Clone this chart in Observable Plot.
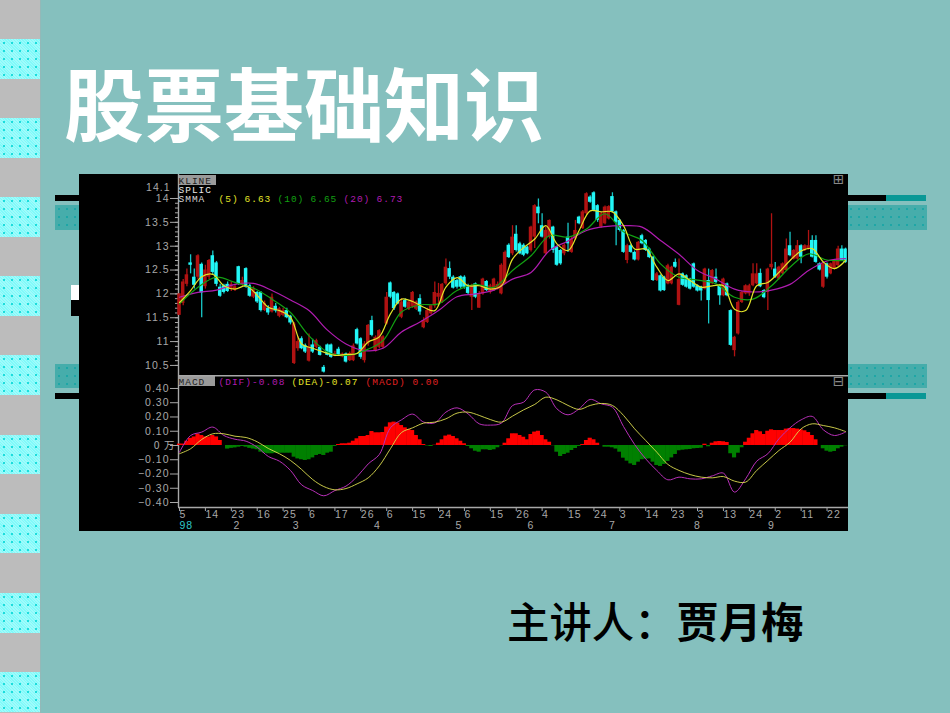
<!DOCTYPE html>
<html><head><meta charset="utf-8">
<script src="https://cdn.jsdelivr.net/npm/d3@7"></script>
<script src="https://cdn.jsdelivr.net/npm/@observablehq/plot@0.6"></script>
<style>
html,body{margin:0;padding:0;background:#85c0be;width:950px;height:713px;overflow:hidden;position:relative}
.abs{position:absolute}
.dots{background-color:#80fafa;background-image:radial-gradient(circle,#1cdcdc 0.9px,transparent 1.3px),repeating-linear-gradient(45deg,rgba(255,255,255,.25) 0 1px,transparent 1px 2px);background-size:8px 8px,auto}
.hatch{background-color:#46adab;background-image:radial-gradient(circle,#1ea6a6 1px,transparent 1.5px);background-size:8px 8px}
#title{left:64px;top:50px;font:700 80px/100px "Noto Sans CJK SC";color:#fff;white-space:nowrap}
#speaker{left:507px;top:592px;font:500 42.4px/56px "Noto Sans CJK SC";color:#000;white-space:nowrap}
#speaker b{font-weight:700}
svg{display:block}
</style></head><body>
<div id="bg"></div>
<div id="panel" class="abs" style="left:79px;top:174px;width:769px;height:357px;background:#000"></div>
<div class="abs" style="left:178px;top:175px;width:38px;height:10px;background:#9a9a9a"></div>
<div class="abs" style="left:178px;top:376px;width:37px;height:10px;background:#9a9a9a"></div>
<div id="title" class="abs">股票基础知识</div>
<div id="speaker" class="abs">主讲人：<b>贾月梅</b></div>
<div id="kline" class="abs" style="left:79px;top:174px"></div>
<div id="macd" class="abs" style="left:79px;top:375px"></div>
<script>
// ---- candlesticks (price, one entry per trading day)
const opens=[11.55,11.8,12.2,12.65,12.35,12.35,12.62,12.15,12.35,12.8,12.65,12.14,12.17,12.2,12.1,12.08,12.57,12.18,12.53,12.17,11.93,12.03,12.03,11.65,11.7,11.62,11.74,11.53,11.55,11.65,11.53,10.54,10.85,11.06,10.92,10.59,10.93,10.88,10.88,10.46,10.93,10.93,10.7,10.84,10.68,10.74,10.6,10.6,11.25,11.06,10.6,10.95,11.44,10.8,10.88,10.88,11.37,12.23,12.03,12.0,11.51,11.86,11.68,11.72,11.68,11.9,11.29,11.4,11.58,11.75,11.93,11.82,12.21,12.53,12.35,12.28,12.36,12.35,12.17,11.93,12.21,11.7,12.0,12.26,12.03,12.07,12.1,12.0,12.21,13.02,12.84,13.25,13.05,13.02,12.98,12.91,13.19,13.82,13.43,12.84,13.19,13.4,12.98,12.91,12.84,13.19,12.87,13.15,13.61,13.37,13.68,14.03,14.12,13.85,13.4,13.47,13.57,14.04,13.72,13.54,13.33,12.7,13.01,12.87,12.71,13.22,13.12,12.94,12.77,12.28,12.38,12.35,12.21,12.21,12.66,11.76,12.42,12.38,12.31,12.63,12.17,12.14,12.1,12.28,12.21,12.35,12.17,11.96,12.21,11.65,10.81,11.16,11.82,12.0,12.0,12.17,12.21,12.43,12.07,12.03,12.55,12.52,12.31,12.42,12.49,13.01,12.73,12.73,13.01,12.91,12.94,13.12,13.12,12.63,12.14,12.63,12.42,12.52,12.59,12.94,12.94];
const closes=[12.0,12.25,12.4,12.6,12.18,12.8,12.02,12.5,12.7,12.45,12.2,11.95,12.03,12.05,12.2,12.15,12.2,12.28,12.14,11.95,12.1,11.83,11.65,11.8,11.6,11.93,11.64,11.69,11.65,11.5,11.39,11.37,11.0,10.85,10.78,10.88,10.78,11.02,10.71,10.36,10.71,10.67,10.75,10.72,10.74,10.57,10.75,10.91,10.95,10.67,10.95,11.34,11.13,11.09,11.23,11.1,11.93,11.93,11.69,11.79,11.83,11.72,11.83,12.03,11.83,11.62,11.44,11.65,11.75,12.03,12.01,12.2,12.56,12.35,12.12,12.14,12.14,12.14,12.01,12.17,11.93,12.0,12.31,12.07,12.17,12.31,12.2,12.6,12.87,12.76,13.19,12.91,12.84,12.81,12.84,13.4,13.85,13.68,13.19,13.33,13.54,12.91,12.6,12.63,13.02,13.05,13.15,13.33,13.47,13.72,14.1,13.92,13.75,13.54,13.68,13.82,13.83,13.72,13.5,13.33,12.87,13.01,12.87,12.71,13.08,13.05,12.91,12.76,12.28,12.42,12.06,12.07,12.59,12.56,12.56,12.3,12.18,12.14,12.1,12.14,12.06,12.06,12.52,11.86,12.49,12.24,11.96,12.31,11.96,10.92,11.09,11.82,12.03,12.17,12.17,12.42,12.42,12.15,11.92,12.52,12.62,12.35,12.56,12.63,12.94,12.8,12.91,13.01,12.77,13.01,13.01,12.77,12.66,12.5,12.63,12.35,12.63,12.7,12.94,12.7,12.66];
const highs=[12.0,12.3,12.52,12.82,12.52,12.82,12.65,12.6,12.72,12.9,12.68,12.2,12.2,12.25,12.25,12.2,12.58,12.35,12.55,12.2,12.15,12.05,12.05,11.85,11.75,12.0,11.8,11.72,11.7,11.7,11.55,11.4,11.1,11.1,10.95,11.16,11.05,11.05,10.9,10.5,10.95,10.95,10.8,10.88,10.76,10.76,10.78,10.95,11.28,11.08,11.0,11.36,11.53,11.12,11.25,11.12,12.03,12.25,12.05,12.02,11.9,11.9,11.85,12.05,11.85,11.98,11.5,11.7,11.78,12.25,12.22,12.22,12.73,12.67,12.38,12.3,12.38,12.38,12.2,12.2,12.23,12.05,12.33,12.28,12.2,12.33,12.25,12.63,12.9,13.05,13.43,13.43,13.08,13.05,13.0,13.42,13.87,13.99,13.68,13.4,13.55,13.42,13.0,12.93,13.05,13.48,13.2,13.54,13.63,13.75,14.12,14.06,14.14,13.87,13.7,13.84,13.85,14.12,13.74,13.56,13.35,13.04,13.04,12.9,13.1,13.25,13.14,12.96,12.79,12.45,12.4,12.37,12.62,12.58,12.73,12.73,12.44,12.4,12.33,12.65,12.19,12.16,12.54,12.52,12.51,12.52,12.19,12.33,12.23,11.67,11.11,11.85,12.05,12.19,12.2,12.63,12.63,12.52,12.09,12.54,13.68,12.66,12.58,12.65,13.15,13.29,12.93,13.12,13.03,13.03,13.33,13.22,13.22,12.65,12.65,12.65,12.65,12.72,13.0,13.01,12.96];
const lows=[11.55,11.75,12.15,12.42,12.1,12.3,11.5,12.1,12.3,12.4,12.15,11.93,12.0,12.03,12.05,12.05,12.18,12.15,12.12,11.93,11.9,11.8,11.62,11.63,11.55,11.6,11.6,11.5,11.52,11.48,11.35,10.52,10.8,10.83,10.75,10.57,10.75,10.85,10.7,10.34,10.7,10.65,10.68,10.7,10.66,10.55,10.58,10.58,10.93,10.63,10.55,10.9,11.1,10.78,10.85,10.85,11.35,11.9,11.65,11.77,11.48,11.7,11.65,11.7,11.65,11.55,11.27,11.38,11.56,11.7,11.75,11.8,12.18,12.3,12.1,12.1,12.1,12.1,11.98,11.65,11.9,11.7,11.97,12.05,12.0,12.05,12.08,11.98,12.2,12.74,12.8,12.88,12.82,12.78,12.82,12.88,12.95,13.47,13.17,12.82,13.15,12.85,12.58,12.6,12.8,12.87,12.85,13.12,13.45,13.35,13.65,13.9,13.72,13.5,13.38,13.45,13.55,13.7,13.01,13.3,12.85,12.63,12.85,12.69,12.69,13.03,12.89,12.74,12.26,12.26,12.04,12.05,12.19,12.19,12.54,11.75,12.16,12.12,12.08,12.12,12.04,11.85,12.08,11.37,12.19,12.22,11.76,11.94,11.94,10.9,10.68,11.14,11.8,11.98,11.95,12.15,12.19,12.13,11.9,11.65,12.5,12.33,12.29,12.4,12.47,12.78,12.71,12.71,12.63,12.89,12.92,12.75,12.64,12.48,12.12,12.31,12.4,12.5,12.57,12.68,12.64];
const sma5Days=d3.range(0,181,3);
const sma5=[11.82,12.07,12.36,12.41,12.17,12.10,12.17,11.97,11.72,11.65,11.51,10.95,10.86,10.78,10.71,10.73,10.75,10.99,11.10,11.58,11.89,11.84,11.72,11.65,12.14,12.34,12.17,12.17,12.10,12.17,12.73,12.97,13.15,13.43,13.05,12.91,13.33,13.74,13.72,13.72,13.43,12.94,12.94,12.56,12.28,12.42,12.28,12.14,12.17,12.17,11.68,11.65,12.17,12.24,12.45,12.70,12.90,12.95,12.67,12.53,12.70];
const maDays=d3.range(0,181,5);
const sma10=[11.79,12.14,12.35,12.24,12.12,11.89,11.61,11.12,10.78,10.71,10.81,11.02,11.62,11.77,11.79,12.07,12.2,12.14,12.49,12.80,13.22,13.19,13.36,13.68,13.30,13.12,12.63,12.35,12.29,12.21,11.93,11.89,12.17,12.56,12.84,12.71,12.70];
const sma20=[11.93,12.03,12.08,12.2,12.22,12.07,11.87,11.65,11.24,10.95,10.81,10.86,11.2,11.41,11.65,11.94,12.0,12.08,12.31,12.45,12.91,13.11,13.33,13.41,13.43,13.40,13.12,12.83,12.49,12.31,12.10,12.04,12.08,12.2,12.49,12.69,12.74];
// ---- MACD
const hist=[0.01,0.01,0.03,0.05,0.06,0.08,0.07,0.06,0.06,0.07,0.06,0.035,0,-0.025,-0.02,-0.017,-0.012,-0.007,-0.012,-0.02,-0.025,-0.03,-0.047,-0.054,-0.058,-0.058,-0.054,-0.054,-0.054,-0.054,-0.054,-0.082,-0.094,-0.1,-0.105,-0.1,-0.087,-0.07,-0.063,-0.07,-0.054,-0.047,-0.007,0.007,0.012,0.012,0.016,0.03,0.047,0.063,0.063,0.07,0.098,0.089,0.089,0.091,0.129,0.159,0.164,0.157,0.14,0.124,0.112,0.105,0.07,0.04,0.007,-0.003,-0.007,0.002,0.016,0.04,0.066,0.073,0.063,0.047,0.03,0.012,-0.007,-0.023,-0.04,-0.047,-0.03,-0.03,-0.035,-0.03,-0.016,-0.002,0.016,0.047,0.082,0.082,0.07,0.058,0.04,0.077,0.094,0.1,0.07,0.04,0.023,-0.002,-0.047,-0.077,-0.063,-0.054,-0.035,-0.021,-0.007,0.007,0.035,0.051,0.04,0.016,0,-0.012,-0.012,-0.016,-0.025,-0.047,-0.089,-0.11,-0.129,-0.14,-0.117,-0.1,-0.096,-0.094,-0.117,-0.14,-0.147,-0.133,-0.112,-0.087,-0.063,-0.037,-0.033,-0.03,-0.028,-0.023,-0.021,-0.019,0.009,-0.009,0.016,0.026,0.028,0.026,0.021,-0.058,-0.087,-0.054,-0.016,0.023,0.051,0.082,0.105,0.096,0.077,0.1,0.11,0.105,0.105,0.105,0.115,0.119,0.119,0.115,0.11,0.103,0.091,0.07,0.04,0,-0.023,-0.04,-0.047,-0.042,-0.023,-0.012,-0.002];
const difDays=d3.range(0,181,3);
const dif=[-0.047,0.07,0.094,0.129,0.07,0.044,0.03,-0.012,-0.077,-0.11,-0.175,-0.276,-0.316,-0.353,-0.316,-0.285,-0.218,-0.129,-0.063,0.124,0.18,0.22,0.164,0.159,0.234,0.264,0.222,0.152,0.143,0.157,0.28,0.304,0.39,0.374,0.257,0.215,0.257,0.323,0.292,0.269,0.133,0.007,-0.094,-0.175,-0.241,-0.222,-0.234,-0.234,-0.213,-0.194,-0.327,-0.234,-0.11,-0.058,0.047,0.124,0.18,0.204,0.11,0.07,0.094];
const dea=[-0.058,-0.023,0.042,0.082,0.082,0.065,0.056,0.026,-0.021,-0.058,-0.105,-0.168,-0.239,-0.288,-0.311,-0.302,-0.269,-0.227,-0.143,-0.023,0.091,0.124,0.157,0.164,0.187,0.227,0.234,0.211,0.182,0.164,0.206,0.25,0.288,0.339,0.32,0.281,0.253,0.281,0.295,0.281,0.211,0.117,0.035,-0.047,-0.133,-0.175,-0.204,-0.222,-0.227,-0.218,-0.25,-0.257,-0.175,-0.105,-0.035,0.023,0.117,0.152,0.14,0.124,0.098];
// ---- axes
const priceTicks=[10.5,11,11.5,12,12.5,13,13.5,14];
const priceMinor=d3.range(105,141).map(v=>v/10);
const macdTicks=[0.4,0.3,0.2,0.1,-0.1,-0.2,-0.3,-0.4];
const dayLabels=["5","14","23","16","25","6","17","26","6","15","24","6","15","26","4","15","24","3","14","23","3","13","24","2","11","22"];
const dayTicks=dayLabels.map((_,k)=>k*7);
const monthLabels=["2","3","4","5","6","7","8","9"];
const monthDays=[15.5,31.5,53.5,75.5,95,117,140,160];
// ---- colours
const RED="#b01212",CYAN="#22f6f6",YEL="#e4e428",GRN="#12a012",PUR="#b01cb0",GRAY="#a8a8a8";
const FONT='"Liberation Sans"',MONO='"Liberation Mono"';
const xDomain=[-0.27,180.8];
const days=d3.range(opens.length);
const up=i=>closes[i]>=opens[i];

function label(t,dx,dy,fill,extra={}){return Plot.text([t],{frameAnchor:"top-left",lineAnchor:"middle",dx,dy,text:d=>d,fill,textAnchor:"start",fontFamily:MONO,fontSize:9.5,...extra});}
const plotStyle={background:"transparent",letterSpacing:"1px"};

const kline=Plot.plot({
  width:769,height:201,marginLeft:99,marginRight:0,marginTop:0,marginBottom:0,
  style:plotStyle,
  x:{domain:xDomain,axis:null},
  y:{domain:[10.289,14.503],axis:null},
  marks:[
    Plot.ruleX(xDomain.slice(0,1),{stroke:GRAY,strokeWidth:1.4}),
    Plot.axisY(priceMinor,{anchor:"left",tickSize:3,tickFormat:()=>null,stroke:GRAY,fill:GRAY}),
    Plot.axisY(priceTicks,{anchor:"left",tickSize:8,tickPadding:1,tickFormat:d=>String(d),fill:GRAY,stroke:GRAY,fontFamily:FONT,fontSize:10.5}),
    label("14.1",-8,13,GRAY,{textAnchor:"end",fontFamily:FONT,fontSize:10.5}),
    Plot.ruleX(days,{x:d=>d,y1:i=>lows[i],y2:i=>highs[i],stroke:i=>up(i)?RED:"#18c8c8",strokeWidth:1.3}),
    Plot.rectY(days,{x1:i=>i-0.47,x2:i=>i+0.47,y1:i=>opens[i],y2:i=>closes[i],fill:i=>up(i)?RED:CYAN}),
    Plot.line(sma20,{x:(_,k)=>maDays[k],y:d=>d,stroke:PUR,strokeWidth:1.2,curve:"catmull-rom"}),
    Plot.line(sma10,{x:(_,k)=>maDays[k],y:d=>d,stroke:GRN,strokeWidth:1.2,curve:"catmull-rom"}),
    Plot.line(sma5,{x:(_,k)=>sma5Days[k],y:d=>d,stroke:YEL,strokeWidth:1.2,curve:"catmull-rom"}),
    label("KLINE",0,6,"#222"),
    label("SPLIC",0,15,"#e8e8e8"),
    label("SMMA",0,24,"#d8d8d8"),
    label("(5)",40,24,YEL),label("6.63",66,24,YEL),
    label("(10)",99,24,GRN),label("6.65",132,24,GRN),
    label("(20)",165,24,PUR),label("6.73",198,24,PUR),
    Plot.text(["⊞"],{frameAnchor:"top-right",lineAnchor:"middle",dx:-3,dy:5,text:d=>d,fill:"#888",textAnchor:"end",fontFamily:'"DejaVu Sans"',fontSize:14})
  ]
});
document.getElementById("kline").append(kline);

const macd=Plot.plot({
  width:769,height:156,marginLeft:99,marginRight:0,marginTop:0,marginBottom:24,
  style:plotStyle,
  x:{domain:xDomain,axis:null},
  y:{domain:[-0.435,0.491],axis:null},
  marks:[
    Plot.ruleY([0.491],{stroke:GRAY,strokeWidth:2}),
    Plot.ruleX(xDomain.slice(0,1),{stroke:GRAY,strokeWidth:1.4}),
    Plot.ruleY([-0.435],{stroke:GRAY,strokeWidth:1.4}),
    Plot.axisY(macdTicks,{anchor:"left",tickSize:8,tickPadding:1,tickFormat:d3.format(".2f"),fill:GRAY,stroke:GRAY,fontFamily:FONT,fontSize:10.5}),
    Plot.axisY([0],{anchor:"left",tickSize:8,tickFormat:()=>null,stroke:GRAY}),
    label("0 万",-3,70,GRAY,{textAnchor:"end",fontFamily:'"Noto Sans CJK SC"',fontSize:10.5}),
    Plot.axisX(dayTicks,{anchor:"bottom",tickSize:4,tickPadding:-1,textAnchor:"start",tickFormat:(d,k)=>dayLabels[k],fill:GRAY,stroke:GRAY,fontFamily:FONT,fontSize:10.5}),
    Plot.text(["98"],{frameAnchor:"bottom",lineAnchor:"middle",x:[0],dy:18,text:d=>d,textAnchor:"start",fill:"#30c8c8",fontFamily:FONT,fontSize:10.5}),
    Plot.text(monthLabels,{frameAnchor:"bottom",lineAnchor:"middle",x:monthDays,dy:18,text:d=>d,fill:GRAY,fontFamily:FONT,fontSize:10.5}),
    Plot.rectY(hist,{x1:(_,i)=>i-0.56,x2:(_,i)=>i+0.56,y1:0,y2:d=>d,fill:d=>d>=0?"#ff0000":"#008000"}),
    Plot.line(dif,{x:(_,k)=>difDays[k],y:d=>d,stroke:"#b830b8",strokeWidth:1,curve:"catmull-rom"}),
    Plot.line(dea,{x:(_,k)=>difDays[k],y:d=>d,stroke:"#dcdc50",strokeWidth:0.9,curve:"catmull-rom"}),
    label("MACD",0,6,"#222"),
    label("(DIF)-0.08",40,6,PUR),
    label("(DEA)-0.07",113,6,YEL),
    label("(MACD) 0.00",187,6,"#e02020"),
    Plot.text(["⊟"],{frameAnchor:"top-right",lineAnchor:"middle",dx:-3,dy:6,text:d=>d,fill:"#888",textAnchor:"end",fontFamily:'"DejaVu Sans"',fontSize:14})
  ]
});
document.getElementById("macd").append(macd);

// ---- slide decoration
const bg=document.getElementById("bg");
function box(l,t,w,h,css,cls){const e=document.createElement("div");e.className="abs "+(cls||"");e.style.cssText=`left:${l}px;top:${t}px;width:${w}px;height:${h}px;${css}`;bg.append(e);}
for(let k=0;k<10;k++){
  const t=39+79.1*k;
  box(0,t-39.3,40,39.5,"background:#bcbcbc");
  box(0,t,40,40,"","dots");
}
box(40,0,1,713,"background:#94b8b8");
box(55,195,831,6,"background:#000");
box(886,195,40,6,"background:#0a9896");
box(55,205,872,25,"","hatch");
box(55,364,872,24,"","hatch");
box(55,393,831,6,"background:#000");
box(886,393,40,6,"background:#0a9896");
box(71,285,8,15,"background:#fff");
box(71,300,8,16,"background:#000");
</script>
</body></html>
